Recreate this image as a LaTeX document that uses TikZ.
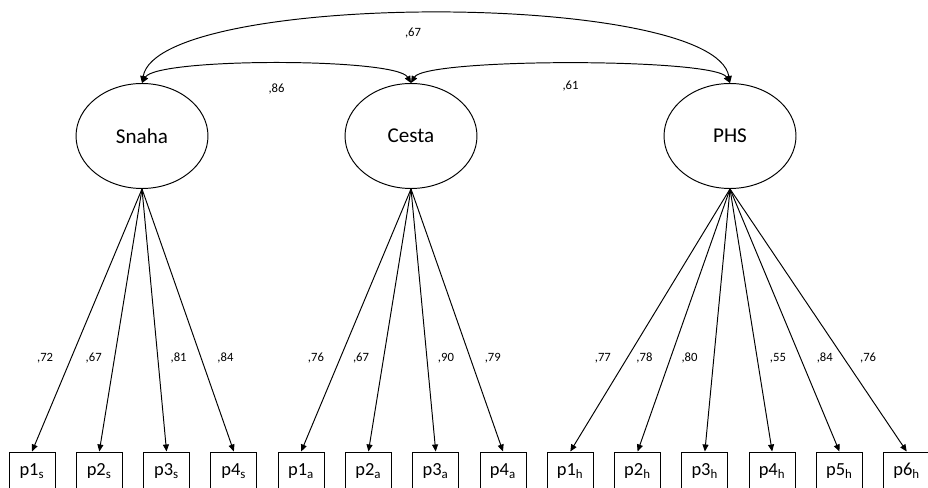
\documentclass[tikz,border=0pt]{standalone}
\usepackage{fontspec}
\setmainfont{Carlito}
\usetikzlibrary{shapes.geometric,positioning,arrows.meta}

\begin{document}
\begin{tikzpicture}[x=0.02cm,y=0.02cm,>={Triangle[length=4pt,width=3.4pt]},
  line width=0.55pt,node distance=1.346cm,
  latent/.style={draw,ellipse,minimum width=2.64cm,minimum height=2.1cm,
    inner sep=0pt,font=\fontsize{12}{14}\selectfont},
  item/.style={draw,rectangle,on grid,minimum width=0.92cm,minimum height=0.76cm,
    inner sep=0pt,font=\fontsize{10.5}{12}\selectfont},
  lbl/.style={pos=.644,inner sep=1pt,font=\fontsize{7.2}{8}\selectfont}]
  \useasboundingbox (0,0) rectangle (928,487);
  \clip (0,0) rectangle (928,487);
  % latent factors
  \node[latent] (snaha) at (142,351) {Snaha};
  \node[latent] (cesta) at (411,351) {Cesta};
  \node[latent] (phs) at (730,351) {PHS};
  % indicators
  \node[item] (s1) at (32,16) {p1\textsubscript{s}};
  \node[item] (s2) [right=of s1] {p2\textsubscript{s}};
  \node[item] (s3) [right=of s2] {p3\textsubscript{s}};
  \node[item] (s4) [right=of s3] {p4\textsubscript{s}};
  \node[item] (a1) [right=of s4] {p1\textsubscript{a}};
  \node[item] (a2) [right=of a1] {p2\textsubscript{a}};
  \node[item] (a3) [right=of a2] {p3\textsubscript{a}};
  \node[item] (a4) [right=of a3] {p4\textsubscript{a}};
  \node[item] (h1) [right=of a4] {p1\textsubscript{h}};
  \node[item] (h2) [right=of h1] {p2\textsubscript{h}};
  \node[item] (h3) [right=of h2] {p3\textsubscript{h}};
  \node[item] (h4) [right=of h3] {p4\textsubscript{h}};
  \node[item] (h5) [right=of h4] {p5\textsubscript{h}};
  \node[item] (h6) [right=of h5] {p6\textsubscript{h}};
  % loadings
  \path[->]
    (snaha.south) edge node[lbl,left=9pt]{,72} (s1.north)
    (snaha.south) edge node[lbl,left=6pt]{,67} (s2.north)
    (snaha.south) edge node[lbl,right=6pt]{,81} (s3.north)
    (snaha.south) edge node[lbl,right=8pt]{,84} (s4.north)
    (cesta.south) edge node[lbl,left=8pt]{,76} (a1.north)
    (cesta.south) edge node[lbl,left=7pt]{,67} (a2.north)
    (cesta.south) edge node[lbl,right=5pt]{,90} (a3.north)
    (cesta.south) edge node[lbl,right=7pt]{,79} (a4.north)
    (phs.south) edge node[lbl,left=8pt]{,77} (h1.north)
    (phs.south) edge node[lbl,left=9pt]{,78} (h2.north)
    (phs.south) edge node[lbl,left=8pt]{,80} (h3.north)
    (phs.south) edge node[lbl,right=6pt]{,55} (h4.north)
    (phs.south) edge node[lbl,right=8pt]{,84} (h5.north)
    (phs.south) edge node[lbl,right=8pt]{,76} (h6.north);
  % correlations
  \path[<->]
    (snaha.north) edge[out=60,in=120,looseness=.28]
      node[midway,below=0.35cm,inner sep=1pt,font=\fontsize{7.2}{8}\selectfont]{,86} (cesta.north)
    (cesta.north) edge[out=60,in=120,looseness=.234]
      node[midway,below=0.29cm,inner sep=1pt,font=\fontsize{7.2}{8}\selectfont]{,61} (phs.north)
    (snaha.north) edge[out=80,in=100,looseness=.41]
      node[midway,below=0.25cm,xshift=-0.46cm,inner sep=1pt,font=\fontsize{7.2}{8}\selectfont]{,67} (phs.north);
\end{tikzpicture}
\end{document}
